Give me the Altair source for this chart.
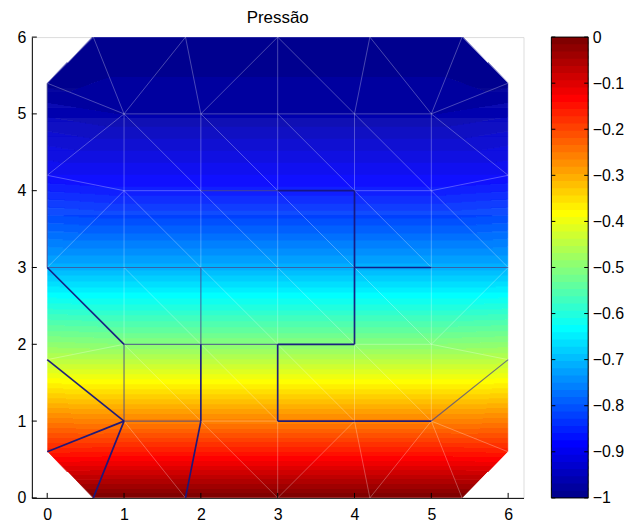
import numpy as np
import pandas as pd
import altair as alt

# ---------------------------------------------------------------------------
# Triangular mesh: node coordinates and nodal pressure
# ---------------------------------------------------------------------------
# bottom boundary, top boundary, left boundary, right boundary, then the
# interior grid row by row (y = 1 .. 5)
node_x = [0.6, 1.8, 3.0, 4.2, 5.4,
          0.6, 1.8, 3.0, 4.2, 5.4,
          0.0, 0.0, 0.0, 0.0, 0.0,
          6.0, 6.0, 6.0, 6.0, 6.0,
          1.0, 2.0, 3.0, 4.0, 5.0,
          1.0, 2.0, 3.0, 4.0, 5.0,
          1.0, 2.0, 3.0, 4.0, 5.0,
          1.0, 2.0, 3.0, 4.0, 5.0,
          1.0, 2.0, 3.0, 4.0, 5.0]
node_y = [0.0, 0.0, 0.0, 0.0, 0.0,
          6.0, 6.0, 6.0, 6.0, 6.0,
          0.6, 1.8, 3.0, 4.2, 5.4,
          0.6, 1.8, 3.0, 4.2, 5.4,
          1.0, 1.0, 1.0, 1.0, 1.0,
          2.0, 2.0, 2.0, 2.0, 2.0,
          3.0, 3.0, 3.0, 3.0, 3.0,
          4.0, 4.0, 4.0, 4.0, 4.0,
          5.0, 5.0, 5.0, 5.0, 5.0]
node_p = [0.00, 0.00, 0.00, 0.00, 0.00,
          -1.00, -1.00, -1.00, -1.00, -1.00,
          -0.16, -0.45, -0.71, -0.89, -0.99,
          -0.16, -0.45, -0.71, -0.89, -0.99,
          -0.26, -0.26, -0.26, -0.26, -0.26,
          -0.50, -0.50, -0.50, -0.50, -0.50,
          -0.71, -0.71, -0.71, -0.71, -0.71,
          -0.87, -0.87, -0.87, -0.87, -0.87,
          -0.97, -0.97, -0.97, -0.97, -0.97]

# element connectivity (by vertex coordinates)
border_tris = [
    # bottom row
    ((0, 0.6), (0.6, 0), (1, 1)), ((0.6, 0), (1.8, 0), (1, 1)),
    ((1, 1), (1.8, 0), (2, 1)), ((2, 1), (1.8, 0), (3, 0)),
    ((2, 1), (3, 0), (3, 1)), ((3, 1), (3, 0), (4, 1)),
    ((4, 1), (3, 0), (4.2, 0)), ((4, 1), (4.2, 0), (5, 1)),
    ((5, 1), (4.2, 0), (5.4, 0)), ((5, 1), (5.4, 0), (6, 0.6)),
    ((5, 1), (6, 0.6), (6, 1.8)),
    # left column
    ((0, 0.6), (1, 1), (0, 1.8)), ((0, 1.8), (1, 1), (1, 2)),
    ((0, 1.8), (1, 2), (0, 3)), ((0, 3), (1, 2), (1, 3)),
    ((0, 3), (1, 3), (1, 4)), ((0, 3), (1, 4), (0, 4.2)),
    ((0, 4.2), (1, 4), (1, 5)), ((0, 4.2), (1, 5), (0, 5.4)),
    ((0, 5.4), (1, 5), (0.6, 6)),
    # top row
    ((0.6, 6), (1, 5), (1.8, 6)), ((1.8, 6), (1, 5), (2, 5)),
    ((1.8, 6), (2, 5), (3, 6)), ((3, 6), (2, 5), (3, 5)),
    ((3, 6), (3, 5), (4, 5)), ((3, 6), (4, 5), (4.2, 6)),
    ((4.2, 6), (4, 5), (5, 5)), ((4.2, 6), (5, 5), (5.4, 6)),
    ((5.4, 6), (5, 5), (6, 5.4)),
    # right column
    ((6, 5.4), (5, 5), (6, 4.2)), ((6, 4.2), (5, 5), (5, 4)),
    ((6, 4.2), (5, 4), (6, 3)), ((6, 3), (5, 4), (5, 3)),
    ((6, 3), (5, 3), (5, 2)), ((6, 3), (5, 2), (6, 1.8)),
    ((6, 1.8), (5, 2), (5, 1)),
]

# edges drawn as walls (dark) and as secondary lines (medium)
dark_edges = [((0, 3), (1, 2)), ((0, 1.8), (1, 1)), ((0, 0.6), (1, 1)),
              ((0.6, 0), (1, 1)), ((1.8, 0), (2, 1)), ((2, 1), (2, 2)),
              ((3, 1), (3, 2)), ((3, 2), (4, 2)), ((4, 2), (4, 3)),
              ((4, 3), (4, 4)), ((3, 4), (4, 4)), ((4, 3), (5, 3)),
              ((3, 1), (4, 1)), ((4, 1), (5, 1))]
medium_edges = [((0, 3), (1, 3)), ((1, 3), (2, 3)), ((2, 3), (3, 3)),
                ((3, 3), (4, 3)), ((5, 3), (6, 3)), ((1, 1), (2, 1)),
                ((1, 1), (1, 2)), ((1, 2), (2, 2)), ((2, 2), (2, 3)),
                ((2, 2), (3, 2)), ((5, 1), (6, 1.8)), ((0, 3), (0, 4.2)),
                ((0, 4.2), (0, 5.4)), ((2, 4), (3, 4))]

x_ticks = [0, 1, 2, 3, 4, 5, 6]
y_ticks = [0, 1, 2, 3, 4, 5, 6]
cbar_ticks = [-1.0, -0.9, -0.8, -0.7, -0.6, -0.5, -0.4, -0.3, -0.2, -0.1, 0.0]

# ---------------------------------------------------------------------------
# helpers
# ---------------------------------------------------------------------------
key = {(round(x, 3), round(y, 3)): i for i, (x, y) in enumerate(zip(node_x, node_y))}


def nid(pt):
    return key[(round(float(pt[0]), 3), round(float(pt[1]), 3))]


tris = [tuple(nid(v) for v in t) for t in border_tris]
for i in range(1, 5):
    for j in range(1, 5):
        tris.append((nid((i, j + 1)), nid((i + 1, j + 1)), nid((i + 1, j))))
        tris.append((nid((i, j + 1)), nid((i, j)), nid((i + 1, j))))


def jet(n=64):
    m = int(np.ceil(n / 4))
    u = np.concatenate([np.arange(1, m + 1) / m, np.ones(m - 1), np.arange(m, 0, -1) / m])
    g = int(np.ceil(m / 2)) - (1 if n % 4 == 1 else 0) + np.arange(1, len(u) + 1)
    r = g + m
    b = g - m
    J = np.zeros((n, 3))
    J[r[r <= n] - 1, 0] = u[r <= n]
    J[g[g <= n] - 1, 1] = u[g <= n]
    J[b[b >= 1] - 1, 2] = u[b >= 1]
    return ["#%02x%02x%02x" % tuple(int(round(c * 255)) for c in row) for row in J]


NLEV = 64
jet_hex = jet(NLEV)
color_scale = alt.Scale(domain=list(range(NLEV)), range=jet_hex)

# ---------------------------------------------------------------------------
# interpolated shading of the mesh (linear inside each triangle)
# ---------------------------------------------------------------------------
NX, NY = 480, 462
dx, dy = 6.0 / NX, 6.0 / NY
X, Y = np.meshgrid((np.arange(NX) + 0.5) * dx, (np.arange(NY) + 0.5) * dy)
P = np.full(X.shape, np.nan)
nx_a, ny_a, np_a = np.array(node_x), np.array(node_y), np.array(node_p)
for a, b, c in tris:
    x1, y1, x2, y2, x3, y3 = nx_a[a], ny_a[a], nx_a[b], ny_a[b], nx_a[c], ny_a[c]
    det = (y2 - y3) * (x1 - x3) + (x3 - x2) * (y1 - y3)
    l1 = ((y2 - y3) * (X - x3) + (x3 - x2) * (Y - y3)) / det
    l2 = ((y3 - y1) * (X - x3) + (x1 - x3) * (Y - y3)) / det
    l3 = 1 - l1 - l2
    inside = (l1 >= -1e-9) & (l2 >= -1e-9) & (l3 >= -1e-9)
    P[inside] = (l1 * np_a[a] + l2 * np_a[b] + l3 * np_a[c])[inside]

valid = ~np.isnan(P)
lvl = np.clip(np.floor((np.nan_to_num(P) + 1.0) * NLEV), 0, NLEV - 1).astype(int)

cells = []
for r in range(NY):
    c = 0
    while c < NX:
        if not valid[r, c]:
            c += 1
            continue
        s, v = c, lvl[r, c]
        while c < NX and valid[r, c] and lvl[r, c] == v:
            c += 1
        x2e = c * dx + (0.4 * dx if c < NX and valid[r, c] else 0.0)
        y2e = (r + 1) * dy + (0.5 * dy if r < NY - 1 else 0.0)
        cells.append({"x": s * dx, "x2": x2e, "y": r * dy, "y2": y2e, "lvl": int(v)})
shade = pd.DataFrame(cells)

# mesh edges
edge_set = set()
for t in tris:
    for k in range(3):
        e = tuple(sorted((t[k], t[(k + 1) % 3])))
        edge_set.add(e)
dark_set = {tuple(sorted((nid(a), nid(b)))) for a, b in dark_edges}
med_set = {tuple(sorted((nid(a), nid(b)))) for a, b in medium_edges}


def edge_frame(es):
    return pd.DataFrame([{"x": node_x[i], "y": node_y[i], "x2": node_x[j], "y2": node_y[j]}
                         for i, j in sorted(es)])


light_df = edge_frame(edge_set - dark_set - med_set)
med_df = edge_frame(med_set)
dark_df = edge_frame(dark_set)

# ---------------------------------------------------------------------------
# chart
# ---------------------------------------------------------------------------
W, H = 494, 463
FONT = "Liberation Sans"

xscale = alt.Scale(domain=[-0.2, 6.2], nice=False, zero=False)
yscale = alt.Scale(domain=[0, 6], nice=False, zero=False)
xaxis = alt.Axis(values=x_ticks, ticks=False, grid=False, title=None, labelPadding=9,
                 domainColor="black", labelFontSize=16)
yaxis = alt.Axis(values=y_ticks, ticks=False, grid=False, title=None, labelPadding=6,
                 domainColor="black", labelFontSize=16)

shade_layer = alt.Chart(shade).mark_rect(strokeWidth=0).encode(
    x=alt.X("x:Q", scale=xscale, axis=xaxis),
    x2="x2:Q",
    y=alt.Y("y:Q", scale=yscale, axis=yaxis),
    y2="y2:Q",
    color=alt.Color("lvl:O", scale=color_scale, legend=None),
)


def edge_layer(df, **style):
    return alt.Chart(df).mark_rule(**style).encode(
        x=alt.X("x:Q", scale=xscale, axis=xaxis), x2="x2:Q",
        y=alt.Y("y:Q", scale=yscale, axis=yaxis), y2="y2:Q",
    )


light_layer = edge_layer(light_df, color="white", opacity=0.36, strokeWidth=0.8)
med_layer = edge_layer(med_df, color="#48488e", opacity=0.75, strokeWidth=1.2)
dark_layer = edge_layer(dark_df, color="#16167e", opacity=0.95, strokeWidth=1.7)

xt_layer = alt.Chart(pd.DataFrame({"t": x_ticks})).mark_rule(color="black", strokeWidth=1).encode(
    x=alt.X("t:Q", scale=xscale, axis=xaxis), y=alt.value(H), y2=alt.value(H - 5)
)
yt_layer = alt.Chart(pd.DataFrame({"t": y_ticks})).mark_rule(color="black", strokeWidth=1).encode(
    y=alt.Y("t:Q", scale=yscale, axis=yaxis), x=alt.value(0), x2=alt.value(5)
)

main = alt.layer(shade_layer, light_layer, med_layer, dark_layer, xt_layer, yt_layer).properties(
    width=W, height=H,
    title=alt.TitleParams("Pressão", fontSize=17, fontWeight="normal", font=FONT,
                          offset=2, anchor="middle", color="black"),
)

# colour bar
CBW = 37
cb_df = pd.DataFrame({"lvl": list(range(NLEV)),
                      "lo": [-1 + i / NLEV for i in range(NLEV)],
                      "hi": [min(0.0, -1 + (i + 1.4) / NLEV) for i in range(NLEV)]})
cbscale = alt.Scale(domain=[-1, 0], nice=False, zero=False)
cbaxis = alt.Axis(orient="right", values=cbar_ticks, ticks=False, domain=False, grid=False,
                  title=None, labelPadding=4, labelFontSize=16,
                  labelExpr="datum.value == 0 ? '0' : (datum.value <= -0.999 ? '\u22121' : '\u2212' + format(-datum.value, '.1f'))")

cb_rects = alt.Chart(cb_df).mark_rect(strokeWidth=0).encode(
    y=alt.Y("lo:Q", scale=cbscale, axis=cbaxis), y2="hi:Q",
    color=alt.Color("lvl:O", scale=color_scale, legend=None),
)
tick_df = pd.DataFrame({"t": cbar_ticks})
cb_tl = alt.Chart(tick_df).mark_rule(color="black").encode(
    y=alt.Y("t:Q", scale=cbscale, axis=cbaxis), x=alt.value(0), x2=alt.value(4))
cb_tr = alt.Chart(tick_df).mark_rule(color="black").encode(
    y=alt.Y("t:Q", scale=cbscale, axis=cbaxis), x=alt.value(CBW - 4), x2=alt.value(CBW))
cb_frame = alt.Chart(alt.Data(values=[{}])).mark_rect(filled=False, stroke="black", strokeWidth=1).encode(
    x=alt.value(0), x2=alt.value(CBW), y=alt.value(0), y2=alt.value(H))

cbar = alt.layer(cb_rects, cb_tl, cb_tr, cb_frame).properties(width=CBW, height=H)

chart = alt.hconcat(main, cbar, spacing=26).properties(
    padding={"left": 16, "top": 7, "right": 5, "bottom": 5},
).configure_view(stroke=None).configure_axis(
    labelFont=FONT, labelColor="black", domainColor="black", domainWidth=1,
).configure(background="white")

chart.save("out.html", embed_options={"renderer": "svg", "actions": False})
